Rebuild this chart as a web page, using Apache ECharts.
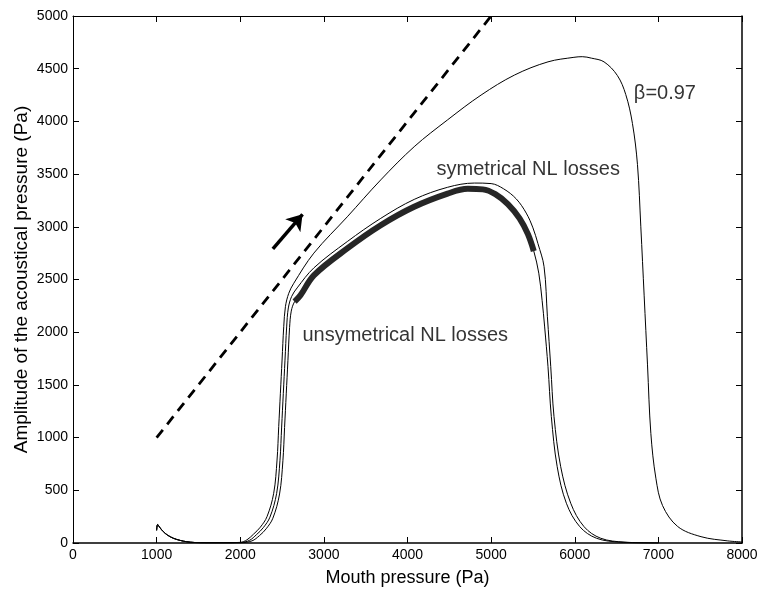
<!DOCTYPE html>
<html>
<head>
<meta charset="utf-8">
<script src="https://cdn.jsdelivr.net/npm/echarts@6/dist/echarts.min.js"></script>
<style>
html,body{margin:0;padding:0;background:#fff;}
#chart{width:763px;height:597px;}
</style>
</head>
<body>
<div id="chart"></div>
<script>
// ---- Data ----
const xTicks = [0, 1000, 2000, 3000, 4000, 5000, 6000, 7000, 8000];
const yTicks = [0, 500, 1000, 1500, 2000, 2500, 3000, 3500, 4000, 4500, 5000];

// beta = 0.97 curve
const betaX = [1000,1012,1040,1080,1130,1200,1280,1360,1450,1600,1800,2000,2080,2160,2240,2320,2400,2440,2460,2480,2500,2520,2540,2580,2640,2880,3280,3680,4080,4480,4880,5280,5680,5990,6090,6200,6350,6510,6610,6690,6750,6790,6830,6870,6910,6970,7050,7230,7510,7830,8000];
const betaY = [120,175,145,108,75,45,25,12,5,2,2,6,30,85,150,250,472,787,1104,1420,1736,2052,2242,2369,2464,2750,3095,3445,3760,4015,4250,4440,4565,4608,4614,4600,4565,4435,4255,3980,3590,3000,2345,1690,1040,615,355,157,60,20,10];

// symmetrical NL losses
const symX = [1000,1012,1040,1080,1130,1200,1280,1360,1450,1600,1800,2000,2110,2195,2275,2355,2435,2475,2495,2515,2535,2555,2575,2615,2680,2880,3280,3680,4080,4480,4800,5000,5150,5300,5420,5500,5560,5633,5673,5713,5752,5832,5952,6111,6311,6600,7000];
const symY = [120,175,145,108,75,45,25,12,5,2,2,4,25,80,145,245,470,785,1100,1420,1735,2050,2230,2340,2420,2610,2860,3080,3260,3375,3415,3410,3360,3265,3130,2990,2840,2622,2147,1673,1199,724,377,155,45,8,0];

// unsymmetrical NL losses (centre of the oscillating band)
const unsymX = [1000,1012,1040,1080,1130,1200,1280,1360,1450,1600,1800,2000,2140,2230,2310,2390,2470,2510,2530,2550,2570,2590,2610,2650,2720,2880,3280,3680,4080,4480,4720,4900,5050,5200,5340,5440,5510,5570,5610,5640,5680,5720,5790,5900,6060,6260,6550,7000];
const unsymY = [120,175,145,108,75,45,25,12,5,2,2,3,20,70,135,235,465,780,1095,1415,1730,2045,2200,2290,2350,2540,2795,3015,3190,3315,3360,3355,3310,3215,3080,2930,2770,2560,2300,2050,1673,1199,724,377,155,45,8,0];
const bandRange = [2650, 5520]; // x-range where the unsymmetrical curve oscillates

// dashed reference line and arrow
const dashX = [1000, 5000];
const dashY = [1000, 5000];
const arrowX = [2390, 2745];
const arrowY = [2790, 3118];

const labels = ['symetrical NL losses', 'unsymetrical NL losses', '\u03B2=0.97'];

// ---- Chart ----
const F = '"Liberation Sans", Arial, Helvetica, sans-serif';
const zip = (xs, ys) => xs.map((x, i) => [x, ys[i]]);
const bandData = zip(unsymX, unsymY).filter(p => p[0] >= bandRange[0] && p[0] <= bandRange[1]);

const annot = [
  [4347, 3548, labels[0]],
  [2743, 1973, labels[1]],
  [6707, 4269, labels[2]]
];

const lineBase = {
  type: 'line', xAxisIndex: 0, yAxisIndex: 0, symbol: 'none', showSymbol: false,
  smooth: 0.35, silent: true, z: 3
};

const plain = v => String(v);

const axisCommon = {
  type: 'value',
  axisLine: { show: true, onZero: false, lineStyle: { color: '#000', width: 1 } },
  axisTick: { show: true, inside: true, length: 6, lineStyle: { color: '#000', width: 1 } },
  splitLine: { show: false }
};

const option = {
  animation: false,
  backgroundColor: '#fff',
  grid: { left: 73, right: 21, top: 16, bottom: 54, containLabel: false },
  xAxis: [
    Object.assign({}, axisCommon, {
      position: 'bottom', min: xTicks[0], max: xTicks[xTicks.length - 1], interval: xTicks[1] - xTicks[0],
      axisLine: { show: true, onZero: false, lineStyle: { color: '#000', width: 1.5 } },
      axisLabel: { color: '#000', fontSize: 14, fontFamily: F, margin: 5, formatter: plain },
      name: 'Mouth pressure (Pa)', nameLocation: 'middle', nameGap: 26, nameMoveOverlap: false,
      nameTextStyle: { color: '#000', fontSize: 18, fontFamily: F }
    }),
    Object.assign({}, axisCommon, {
      position: 'top', min: xTicks[0], max: xTicks[xTicks.length - 1], interval: xTicks[1] - xTicks[0],
      axisLabel: { show: false }
    })
  ],
  yAxis: [
    Object.assign({}, axisCommon, {
      position: 'left', min: yTicks[0], max: yTicks[yTicks.length - 1], interval: yTicks[1] - yTicks[0],
      axisLabel: { color: '#000', fontSize: 14, fontFamily: F, margin: 5, formatter: plain },
      name: 'Amplitude of the acoustical pressure (Pa)', nameLocation: 'middle', nameGap: 42, nameMoveOverlap: false,
      nameTextStyle: { color: '#000', fontSize: 19, fontFamily: F }
    }),
    Object.assign({}, axisCommon, {
      position: 'right', min: yTicks[0], max: yTicks[yTicks.length - 1], interval: yTicks[1] - yTicks[0],
      axisLine: { show: true, onZero: false, lineStyle: { color: '#000', width: 1.5 } },
      axisLabel: { show: false }
    })
  ],
  series: [
    Object.assign({}, lineBase, { name: 'beta', data: zip(betaX, betaY), lineStyle: { color: '#000', width: 1 } }),
    Object.assign({}, lineBase, { name: 'sym', data: zip(symX, symY), lineStyle: { color: '#000', width: 1 } }),
    Object.assign({}, lineBase, { name: 'unsym', data: zip(unsymX, unsymY), lineStyle: { color: '#000', width: 1 } }),
    Object.assign({}, lineBase, { name: 'unsymBand', data: bandData, lineStyle: { color: '#262626', width: 6 } }),
    Object.assign({}, lineBase, { name: 'dash', smooth: false, data: zip(dashX, dashY),
      lineStyle: { color: '#000', width: 2.8, type: [10, 7] } }),
    {
      type: 'lines', coordinateSystem: 'cartesian2d', xAxisIndex: 0, yAxisIndex: 0, silent: true, z: 4,
      symbol: ['none', 'arrow'], symbolSize: 15,
      lineStyle: { color: '#000', width: 3.5, opacity: 1 },
      data: [{ coords: zip(arrowX, arrowY) }]
    },
    {
      type: 'scatter', xAxisIndex: 0, yAxisIndex: 0, silent: true, z: 5,
      symbolSize: 0, itemStyle: { color: '#000' },
      encode: { x: 0, y: 1 },
      label: {
        show: true, position: 'right', distance: 0, color: '#000', fontSize: 20, fontFamily: F,
        formatter: p => p.data[2]
      },
      data: annot
    }
  ]
};

const chart = echarts.init(document.getElementById('chart'), null, { renderer: 'canvas' });
chart.setOption(option);
</script>
</body>
</html>
